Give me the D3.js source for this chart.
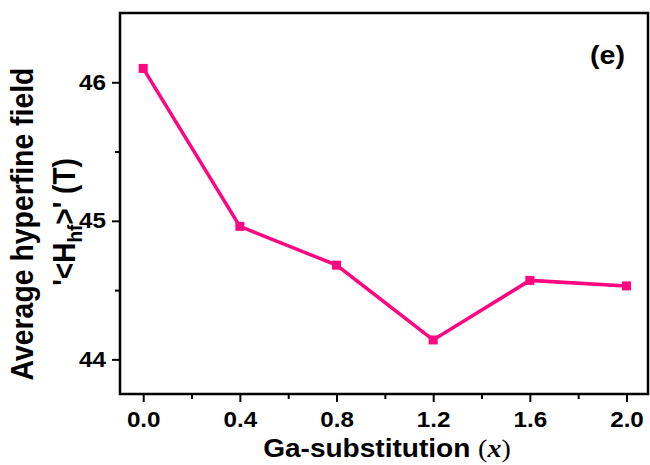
<!DOCTYPE html>
<html>
<head>
<meta charset="utf-8">
<script src="https://cdn.jsdelivr.net/npm/d3@7/dist/d3.min.js"></script>
<style>
  html, body { margin: 0; padding: 0; background: #fff; }
  svg { display: block; }
  text { font-family: "Liberation Sans", Arial, sans-serif; font-weight: bold; fill: #000; }
</style>
</head>
<body>
<div id="chart"></div>
<script>
// Ga content x and average hyperfine field <Hhf> (T)
const gaContent = [0.0, 0.4, 0.8, 1.2, 1.6, 2.0];
const hyperfineField = [46.10, 44.96, 44.68, 44.14, 44.57, 44.53];
const xTickValues = [0.0, 0.4, 0.8, 1.2, 1.6, 2.0];
const xMinorTicks = [0.2, 0.6, 1.0, 1.4, 1.8];
const yTickValues = [44, 45, 46];
const yMinorTicks = [44.5, 45.5];

const width = 650, height = 465;
const plot = { left: 120, right: 648, top: 13, bottom: 394 };
const sx = 1.1;          // horizontal stretch of the lettering
const tickFont = 22;

const svg = d3.select("#chart").append("svg")
  .attr("width", width).attr("height", height);

const x = d3.scaleLinear().domain([-0.096, 2.089]).range([plot.left, plot.right]);
const y = d3.scaleLinear().domain([43.75, 46.50]).range([plot.bottom, plot.top]);

// bottom axis: major ticks with labels, minor ticks without
const xAxis = svg.append("g").attr("transform", `translate(0,${plot.bottom})`);
xAxis.call(d3.axisBottom(x).tickValues(xTickValues).tickFormat(d3.format(".1f"))
  .tickSize(8).tickPadding(9));
xAxis.append("g").call(d3.axisBottom(x).tickValues(xMinorTicks).tickFormat("").tickSize(5));

// left axis
const yAxis = svg.append("g").attr("transform", `translate(${plot.left},0)`);
yAxis.call(d3.axisLeft(y).tickValues(yTickValues).tickFormat(d3.format("d"))
  .tickSize(8).tickPadding(6));
yAxis.append("g").call(d3.axisLeft(y).tickValues(yMinorTicks).tickFormat("").tickSize(5));

svg.selectAll(".domain").remove();
svg.selectAll(".tick line").attr("stroke", "#000").attr("stroke-width", 2);
svg.selectAll(".tick text")
  .style("font-size", tickFont + "px")
  .style("font-family", "'Liberation Sans', Arial, sans-serif").style("font-weight", "bold")
  .each(function () {
    // widen each label about its anchor point
    const t = d3.select(this);
    const ax = +t.attr("x") || 0;
    t.attr("transform", `translate(${ax},0) scale(${sx},1) translate(${-ax},0)`);
  });

// plot frame
svg.append("rect")
  .attr("x", plot.left).attr("y", plot.top)
  .attr("width", plot.right - plot.left).attr("height", plot.bottom - plot.top)
  .attr("fill", "none").attr("stroke", "#000").attr("stroke-width", 2.5);

// data line and square markers
const pts = gaContent.map((g, i) => [g, hyperfineField[i]]);
const pink = "#ff0580";
svg.append("path")
  .datum(pts)
  .attr("fill", "none").attr("stroke", pink).attr("stroke-width", 3.5)
  .attr("d", d3.line().x(d => x(d[0])).y(d => y(d[1])));

const ms = 9;
svg.selectAll("rect.marker").data(pts).enter().append("rect")
  .attr("class", "marker")
  .attr("x", d => x(d[0]) - ms / 2).attr("y", d => y(d[1]) - ms / 2)
  .attr("width", ms).attr("height", ms).attr("fill", pink);

// panel label
svg.append("text").attr("transform", `translate(625,64) scale(${sx},1)`)
  .attr("text-anchor", "end").style("font-size", "26px").text("(e)");

// x-axis title
const xt = svg.append("text")
  .attr("transform", `translate(387,457) scale(${sx},1)`).attr("text-anchor", "middle")
  .style("font-size", "25.5px");
xt.append("tspan").text("Ga-substitution ");
xt.append("tspan").style("font-family", "'Liberation Serif', 'Times New Roman', serif")
  .style("font-weight", "normal").text("(");
xt.append("tspan").style("font-family", "'Liberation Serif', 'Times New Roman', serif")
  .style("font-style", "italic").style("font-weight", "bold").text("x");
xt.append("tspan").style("font-family", "'Liberation Serif', 'Times New Roman', serif")
  .style("font-weight", "normal").text(")");

// y-axis title, two rotated lines
svg.append("text")
  .attr("transform", `translate(33,224) scale(${sx},1) rotate(-90)`)
  .attr("text-anchor", "middle").style("font-size", "28.4px")
  .text("Average hyperfine field");

const yt2 = svg.append("text")
  .attr("transform", `translate(75,222) scale(${sx},1) rotate(-90)`)
  .attr("text-anchor", "middle").style("font-size", "28px");
yt2.append("tspan").text("'<H");
yt2.append("tspan").attr("dy", 6).style("font-size", "19px").text("hf");
yt2.append("tspan").attr("dy", -6).text(">' (T)");
</script>
</body>
</html>
